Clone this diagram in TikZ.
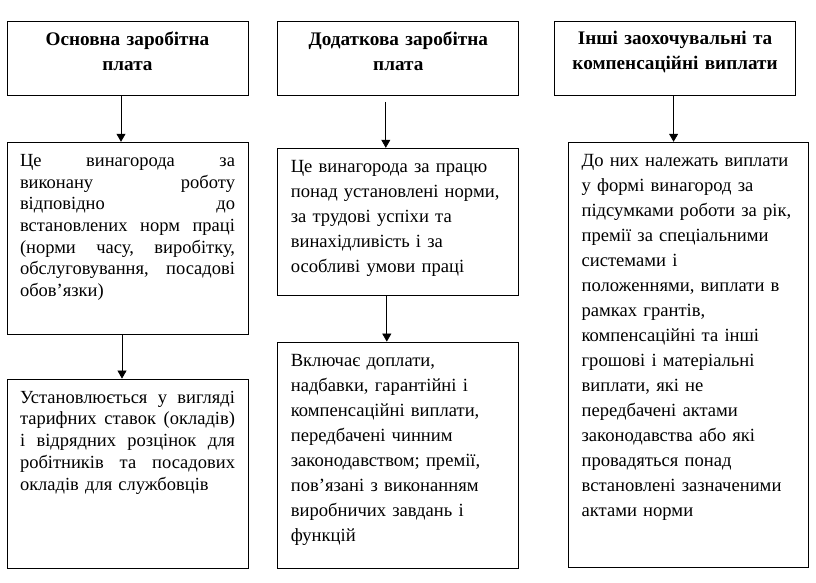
\documentclass[tikz,border=0pt]{standalone}
\usepackage{fontspec}
\setmainfont{Liberation Serif}
\usetikzlibrary{positioning}
\usetikzlibrary{arrows.meta}

\newcommand{\boxtext}[2]{\parbox[c][#1][t]{\linewidth}{#2}}

\begin{document}
\begin{tikzpicture}[
    line width=0.8pt,
    every node/.style={draw,rectangle,inner xsep=13pt,inner ysep=12pt,text width=215pt},
    head/.style={inner ysep=10pt,font=\bfseries\fontsize{19.2}{25}\selectfont},
    lefttext/.style={font=\fontsize{18.5}{21.7}\selectfont},
    plaintext/.style={font=\fontsize{18.6}{25}\selectfont},
    link/.style={-{Triangle[length=8pt,width=9pt]},line width=0.7pt}
  ]
  \useasboundingbox (0,0) rectangle (816pt,-583pt);

  \node[head,anchor=north] (osn) at (127.5pt,-21pt)
    {\boxtext{54pt}{\centering Основна заробітна\\плата}};
  \node[head,right=29pt of osn] (dod)
    {\boxtext{54pt}{\centering Додаткова заробітна\\плата}};
  \node[head,right=35pt of dod] (insh)
    {\boxtext{54pt}{\centering Інші заохочувальні та\\компенсаційні виплати}};

  \node[lefttext,below=46pt of osn] (osn1)
    {\boxtext{168pt}{Це \hfill винагорода \hfill за\\
      виконану \hfill роботу\\
      відповідно \hfill до\\
      встановлених \hfill норм \hfill праці\\
      (норми \hfill часу, \hfill виробітку,\\
      обслуговування, \hfill посадові\\
      обов’язки)}};
  \node[lefttext,below=44pt of osn1] (osn2)
    {\boxtext{165pt}{Установлюється \hfill у \hfill вигляді\\
      тарифних \hfill ставок \hfill (окладів)\\
      і \hfill відрядних \hfill розцінок \hfill для\\
      робітників \hfill та \hfill посадових\\
      окладів для службовців}};

  \node[plaintext,below=52pt of dod] (dod1)
    {\boxtext{123pt}{Це винагорода за працю\\
      понад установлені норми,\\
      за трудові успіхи та\\
      винахідливість і за\\
      особливі умови праці}};
  \node[plaintext,below=46pt of dod1] (dod2)
    {\boxtext{202pt}{Включає доплати,\\
      надбавки, гарантійні і\\
      компенсаційні виплати,\\
      передбачені чинним\\
      законодавством; премії,\\
      пов’язані з виконанням\\
      виробничих завдань і\\
      функцій}};

  \node[plaintext,below=46pt of insh,xshift=13.5pt,text width=214pt] (insh1)
    {\boxtext{401pt}{До них належать виплати\\
      у формі винагород за\\
      підсумками роботи за рік,\\
      премії за спеціальними\\
      системами і\\
      положеннями, виплати в\\
      рамках грантів,\\
      компенсаційні та інші\\
      грошові і матеріальні\\
      виплати, які не\\
      передбачені актами\\
      законодавства або які\\
      провадяться понад\\
      встановлені зазначеними\\
      актами норми}};

  \draw[link] ([xshift=-6.5pt]osn.south) -- ([xshift=-6.5pt]osn.south |- osn1.north);
  \draw[link] ([xshift=-5.5pt]osn1.south) -- ([xshift=-5.5pt]osn1.south |- osn2.north);
  \draw[link,shorten <=6pt] ([xshift=-12.5pt]dod.south) -- ([xshift=-12.5pt]dod.south |- dod1.north);
  \draw[link] ([xshift=-11.5pt]dod1.south) -- ([xshift=-11.5pt]dod1.south |- dod2.north);
  \draw[link] ([xshift=-1.5pt]insh.south) -- ([xshift=-1.5pt]insh.south |- insh1.north);
\end{tikzpicture}
\end{document}
